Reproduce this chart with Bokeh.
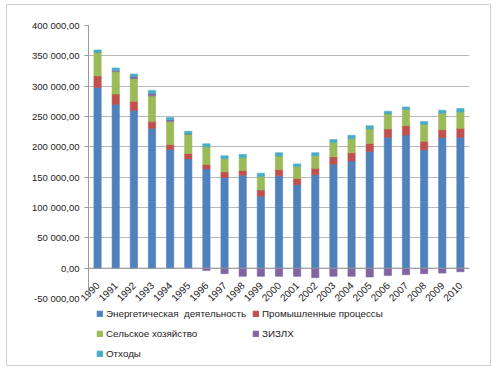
import math
from bokeh.plotting import figure
from bokeh.layouts import column
from bokeh.models import (ColumnDataSource, Legend, LegendItem, FactorRange,
                          Range1d, SingleIntervalTicker, CustomJSTickFormatter, Span)
from bokeh.embed import file_html
from bokeh.resources import INLINE

years = [str(y) for y in range(1990, 2011)]
energy = [298000, 270000, 260000, 230500, 195600, 180000, 163600, 149500, 153200, 118500,
          152200, 137600, 153900, 171200, 176700, 192300, 215800, 219600, 195100, 215200, 215800]
industry = [18900, 17000, 15000, 11500, 8200, 9000, 7400, 9300, 7800, 10300,
            10300, 10200, 10700, 12500, 13500, 13100, 13500, 15100, 14200, 13000, 14700]
agriculture = [39100, 37000, 37500, 42000, 38200, 32000, 29000, 21600, 21000, 22200,
               22300, 19600, 20700, 23300, 23300, 23900, 25000, 26700, 27700, 27200, 27000]
lulucf = [0, 2000, 3500, 4000, 2500, 0, -4000, -9000, -13500, -13500,
          -13500, -13500, -15600, -13500, -13500, -14600, -12200, -10800, -9100, -8100, -5900]
waste = [3700, 4000, 4000, 5000, 3900, 4600, 5000, 4900, 5400, 5500,
         5400, 4400, 4900, 4900, 5500, 5400, 4400, 4300, 4900, 4900, 5600]

names = ["Энергетическая  деятельность", "Промышленные процессы",
         "Сельское хозяйство", "ЗИЗЛХ", "Отходы"]
colors = ["#4F81BD", "#C0504D", "#9BBB59", "#8064A2", "#4BACC6"]
series = [energy, industry, agriculture, lulucf, waste]

# Excel-style stacking: positives upward from 0, negatives downward from 0
pos_base = [0.0] * len(years)
neg_base = [0.0] * len(years)
data = {"year": years}
for k, s in enumerate(series):
    b, t = [], []
    for i, v in enumerate(s):
        if v >= 0:
            b.append(pos_base[i]); t.append(pos_base[i] + v); pos_base[i] += v
        else:
            b.append(neg_base[i]); t.append(neg_base[i] + v); neg_base[i] += v
    data[f"b{k}"] = b
    data[f"t{k}"] = t
src = ColumnDataSource(data)

FONT = "Liberation Sans"
p = figure(width=483, height=302, x_range=FactorRange(*years, range_padding=0),
           y_range=Range1d(-50000, 400000), output_backend="svg", toolbar_location=None,
           min_border_left=81, min_border_right=21, min_border_top=20, min_border_bottom=6)
p.outline_line_color = None
p.background_fill_color = "white"
p.border_fill_color = "white"

for k in range(5):
    p.vbar(x="year", bottom=f"b{k}", top=f"t{k}", width=0.4, source=src,
           fill_color=colors[k], line_color=colors[k], line_alpha=0.6)

p.yaxis.ticker = SingleIntervalTicker(interval=50000)
p.yaxis.formatter = CustomJSTickFormatter(code="""
const s = Math.abs(tick).toFixed(0).replace(/\\B(?=(\\d{3})+(?!\\d))/g, " ");
return (tick < 0 ? "-" : "") + s + ",00";
""")
p.yaxis.major_label_text_font = FONT
p.yaxis.major_label_text_font_size = "9.5px"
p.yaxis.major_label_text_color = "#222222"
p.yaxis.axis_line_color = "#9a9a9a"
p.yaxis.major_tick_line_color = "#9a9a9a"
p.yaxis.major_tick_out = 4
p.yaxis.major_tick_in = 0
p.yaxis.minor_tick_line_color = None
p.yaxis.major_label_standoff = 5

p.xaxis.major_label_orientation = math.pi / 4
p.xaxis.major_label_text_font = FONT
p.xaxis.major_label_text_font_size = "10px"
p.xaxis.major_label_text_color = "#222222"
p.xaxis.axis_line_color = None
p.xaxis.major_tick_line_color = None
p.xaxis.major_label_standoff = -21

p.add_layout(Span(location=0, dimension="width", line_color="#9a9a9a", line_width=1))

p.ygrid.grid_line_color = "#b8b8b8"
p.xgrid.grid_line_color = None

# legend strip below the chart (hidden swatch renderers carry the legend colours)
lg = figure(width=483, height=58, output_backend="svg", toolbar_location=None,
            x_range=FactorRange(*years), y_range=Range1d(0, 1), min_border=0)
lg.xaxis.visible = False
lg.yaxis.visible = False
lg.xgrid.grid_line_color = None
lg.ygrid.grid_line_color = None
lg.outline_line_color = None
lg.background_fill_color = "white"
lg.border_fill_color = "white"
swatches = []
for k, c in enumerate(colors):
    r = lg.vbar(x=[years[0]], top=[series[k][0]], width=0.4, fill_color=c, line_color=c)
    r.visible = False
    swatches.append(r)

common = dict(orientation="vertical", glyph_width=7, glyph_height=7, label_standoff=3,
              spacing=8, label_text_font=FONT, label_text_font_size="9.8px",
              label_text_color="#222222", border_line_color=None,
              background_fill_alpha=0, padding=0, margin=0, label_height=12,
              inactive_fill_alpha=0)
leg1 = Legend(items=[LegendItem(label=names[k], renderers=[swatches[k]]) for k in (0, 2, 4)],
              location=(8, 6), **common)
leg2 = Legend(items=[LegendItem(label=names[k], renderers=[swatches[k]]) for k in (1, 3)],
              location=(164, 26), **common)
lg.add_layout(leg1, "center")
lg.add_layout(leg2, "center")

layout = column(p, lg, spacing=0)
layout.styles = {"border": "1px solid #d0d0d0", "margin-left": "6px", "margin-top": "4px"}

open("out.html", "w").write(file_html(layout, INLINE))
